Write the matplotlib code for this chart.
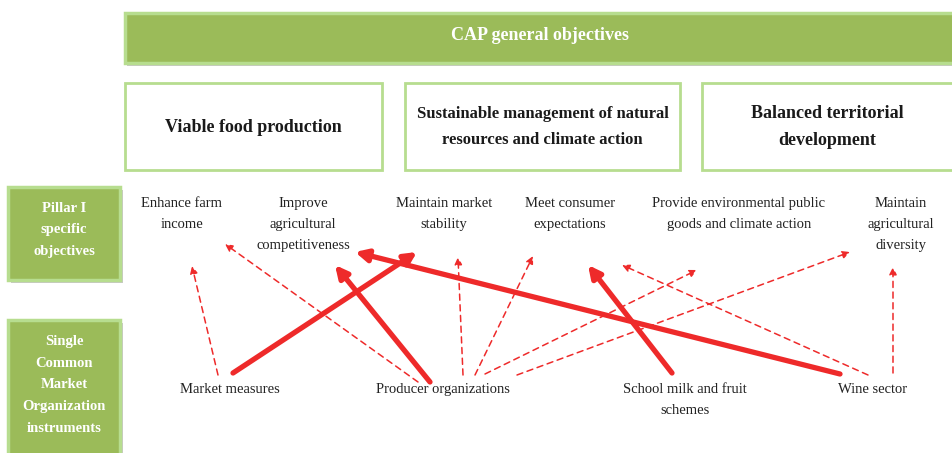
import matplotlib.pyplot as plt
from matplotlib.patches import Rectangle

plt.rcParams['font.family'] = ['Liberation Serif', 'DejaVu Serif']

# Text content
title = "CAP general objectives"
general = ["Viable food production",
           "Sustainable management of natural\nresources and climate action",
           "Balanced territorial\ndevelopment"]
side_labels = ["Pillar I\nspecific\nobjectives",
               "Single\nCommon\nMarket\nOrganization\ninstruments"]
objectives = ["Enhance farm\nincome",
              "Improve\nagricultural\ncompetitiveness",
              "Maintain market\nstability",
              "Meet consumer\nexpectations",
              "Provide environmental public\ngoods and climate action",
              "Maintain\nagricultural\ndiversity"]
instruments = ["Market measures", "Producer organizations",
               "School milk and fruit\nschemes", "Wine sector"]

# links: (instrument index, objective index, strong?)
links = [(0, 2, True), (1, 1, True), (2, 3, True), (3, 1, True),
         (0, 0, False), (1, 0, False), (1, 2, False), (1, 3, False),
         (1, 4, False), (1, 5, False), (3, 4, False), (3, 5, False)]

# layout (pixel coords, y down)
obj_x = [182, 303, 444, 570, 739, 901]
obj_y = 197
ins_x = [230, 443, 685, 873]
ins_y = 383
gen_boxes = [(125, 382), (405, 680), (702, 960)]
gen_size = [13, 12, 13]
# arrow start/end per link, same order as links
arrow_xy = [((233, 373), (417, 252)), ((430, 382), (335, 265)),
            ((672, 373), (588, 265)), ((840, 374), (355, 252)),
            ((218, 375), (192, 266)), ((418, 382), (225, 244)),
            ((463, 375), (458, 257)), ((475, 375), (533, 256)),
            ((485, 374), (697, 270)), ((517, 375), (850, 252)),
            ((868, 375), (622, 265)), ((893, 373), (893, 267))]

green = '#9BBB59'
edge = '#B7DD8F'
red = '#EE2A2A'

fig = plt.figure(figsize=(9.53, 4.53), dpi=100)
ax = fig.add_axes([0, 0, 1, 1])
ax.set_xlim(0, 953)
ax.set_ylim(453, 0)
ax.axis('off')

# top banner with shadow
ax.add_patch(Rectangle((127, 16), 830, 50, fc='#C8C8C8', ec='none'))
ax.add_patch(Rectangle((125, 13), 830, 50, fc=green, ec=edge, lw=2.5))
ax.text(540, 35, title, color='white', fontsize=13, fontweight='bold',
        ha='center', va='center')

for (x0, x1), txt, fs in zip(gen_boxes, general, gen_size):
    ax.add_patch(Rectangle((x0, 83), x1 - x0, 87, fc='white', ec=edge, lw=2))
    ax.text((x0 + min(x1, 953)) / 2, 127, txt, fontsize=fs, fontweight='bold',
            ha='center', va='center', linespacing=1.75, color='#1a1a1a')

# side boxes
for (y0, h, yc), txt in zip([(187, 93, 230), (320, 140, 385)], side_labels):
    ax.add_patch(Rectangle((11, y0 + 3), 112, h, fc='#C8C8C8', ec='none'))
    ax.add_patch(Rectangle((8, y0), 112, h, fc=green, ec=edge, lw=2.5))
    ax.text(64, yc, txt, color='white', fontsize=10.5, fontweight='bold',
            ha='center', va='center', linespacing=1.85)

for x, txt in zip(obj_x, objectives):
    ax.text(x, obj_y, txt, fontsize=10.5, ha='center', va='top',
            linespacing=1.8, color='#222222')
for x, txt in zip(ins_x, instruments):
    ax.text(x, ins_y, txt, fontsize=10.5, ha='center', va='top',
            linespacing=1.8, color='#222222')

for (i, j, strong), (p0, p1) in zip(links, arrow_xy):
    if strong:
        props = dict(arrowstyle='-|>', color=red, lw=3.8, mutation_scale=18,
                     shrinkA=0, shrinkB=0)
    else:
        props = dict(arrowstyle='-|>', color=red, lw=1.1, ls=(0, (4, 3)),
                     mutation_scale=11, shrinkA=0, shrinkB=0)
    ax.annotate('', xy=p1, xytext=p0, arrowprops=props)

fig.savefig('out.png', dpi=100)
